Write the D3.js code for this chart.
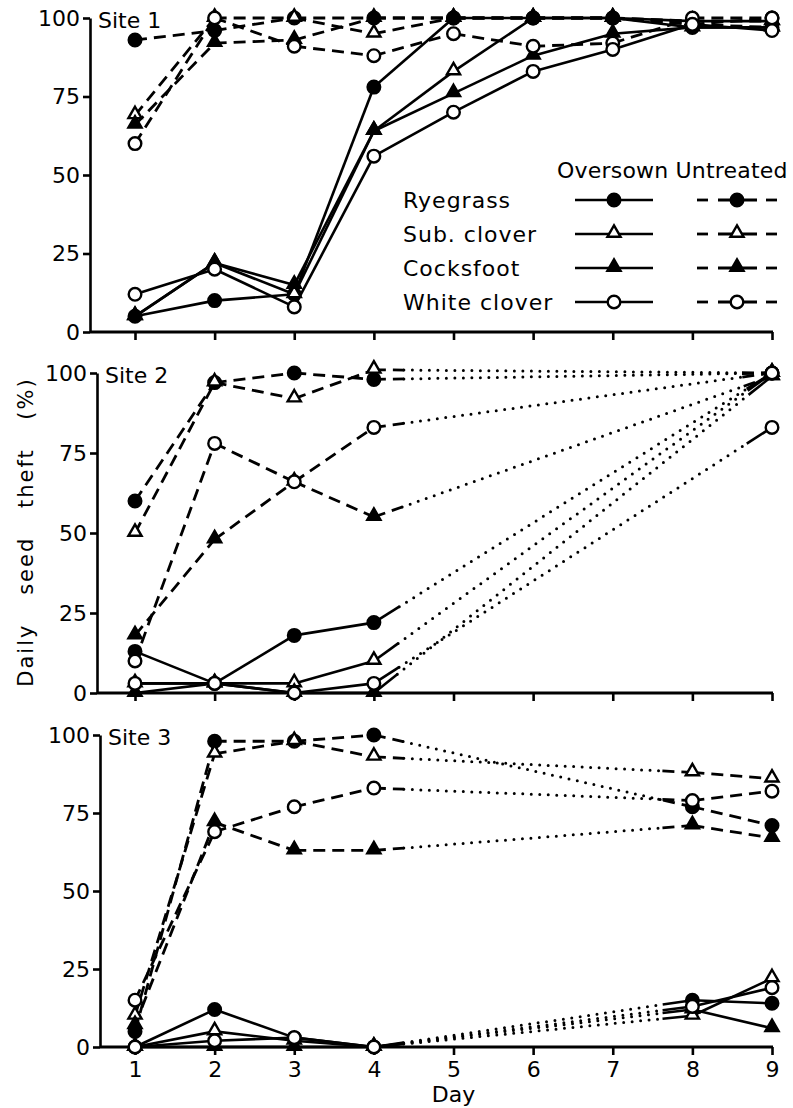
<!DOCTYPE html>
<html>
<head>
<meta charset="utf-8">
<script src="https://cdn.jsdelivr.net/npm/d3@7"></script>
<style>
  body { margin: 0; background: #fff; }
  svg { display: block; }
  text { font-family: "DejaVu Sans", sans-serif; fill: #000; }
</style>
</head>
<body>
<div id="chart"></div>
<script>
// days sampled at each site
var site1Days = [1, 2, 3, 4, 5, 6, 7, 8, 9];
var site2Days = [1, 2, 3, 4, 9];
var site3Days = [1, 2, 3, 4, 8, 9];

var species = ["Ryegrass", "Sub. clover", "Cocksfoot", "White clover"];
var treatments = ["Oversown", "Untreated"];
var yTicks = [0, 25, 50, 75, 100];
var xTicks = [1, 2, 3, 4, 5, 6, 7, 8, 9];

// rows follow the species order above
var site1Oversown = [
  [5, 10, 12, 78, 100, 100, 100, 97, 97],
  [5, 22, 12, 64, 83, 100, 100, 99, 99],
  [5, 22, 15, 64, 76, 88, 95, 97, 97],
  [12, 20, 8, 56, 70, 83, 90, 98, 96]
];
var site1Untreated = [
  [93, 96, 100, 100, 100, 100, 100, 98, 100],
  [69, 100, 100, 95, 100, 100, 100, 99, 99],
  [66, 92, 93, 100, 100, 100, 100, 98, 97],
  [60, 100, 91, 88, 95, 91, 92, 100, 100]
];
var site2Oversown = [
  [13, 3, 18, 22, 100],
  [3, 3, 3, 10, 100],
  [0, 3, 0, 0, 99],
  [3, 3, 0, 3, 83]
];
var site2Untreated = [
  [60, 97, 100, 98, 100],
  [50, 97, 92, 101, 100],
  [18, 48, 66, 55, 99],
  [10, 78, 66, 83, 100]
];
var site3Oversown = [
  [0, 12, 3, 0, 15, 14],
  [0, 5, 2, 0, 10, 22],
  [0, 0, 0, 0, 12, 6],
  [0, 2, 3, 0, 13, 19]
];
var site3Untreated = [
  [5, 98, 98, 100, 77, 71],
  [10, 94, 98, 93, 88, 86],
  [7, 72, 63, 63, 71, 67],
  [15, 69, 77, 83, 79, 82]
];

var W = 793, H = 1108;
var svg = d3.select("#chart").append("svg")
  .attr("width", W).attr("height", H);

var x = d3.scaleLinear().domain([1, 9]).range([135, 772]);

var panels = [
  { name: "Site 1", days: site1Days, over: site1Oversown, untr: site1Untreated, top: 18, bottom: 332, left: 90 },
  { name: "Site 2", days: site2Days, over: site2Oversown, untr: site2Untreated, top: 373, bottom: 693, left: 97 },
  { name: "Site 3", days: site3Days, over: site3Oversown, untr: site3Untreated, top: 735, bottom: 1047, left: 100 }
];

var stub = 30;

function marker(g, px, py, sp) {
  var filled = (sp === 0 || sp === 2);
  var m;
  if (sp === 0 || sp === 3) {
    m = g.append("circle").attr("cx", px).attr("cy", py).attr("r", 6.3);
  } else {
    m = g.append("path")
      .attr("d", d3.symbol().type(d3.symbolTriangle).size(75)())
      .attr("transform", "translate(" + px + "," + (py - 1) + ")");
  }
  m.attr("fill", filled ? "#000" : "#fff")
   .attr("stroke", "#000")
   .attr("stroke-width", 2.4);
}

function seg(g, a, b, style) {
  var p = g.append("line")
    .attr("x1", a[0]).attr("y1", a[1])
    .attr("x2", b[0]).attr("y2", b[1])
    .attr("stroke", "#000");
  if (style === "dash") {
    p.attr("stroke-width", 2.8).attr("stroke-dasharray", "12,7");
  } else if (style === "dot") {
    p.attr("stroke-width", 3).attr("stroke-dasharray", "0,8.5").attr("stroke-linecap", "round");
  } else {
    p.attr("stroke-width", 2.6);
  }
}

function drawSeries(g, y, days, values, style, sp) {
  var pts = days.map(function(d, i) { return [x(d), y(values[i])]; });
  for (var i = 0; i < pts.length - 1; i++) {
    var a = pts[i], b = pts[i + 1];
    if (days[i + 1] - days[i] > 1) {
      var dx = b[0] - a[0], dy = b[1] - a[1];
      var len = Math.sqrt(dx * dx + dy * dy);
      var ux = dx / len, uy = dy / len;
      var a2 = [a[0] + ux * stub, a[1] + uy * stub];
      var b2 = [b[0] - ux * stub, b[1] - uy * stub];
      seg(g, a, a2, style);
      seg(g, a2, b2, "dot");
      seg(g, b2, b, style);
    } else {
      seg(g, a, b, style);
    }
  }
  return pts;
}

panels.forEach(function(p, pi) {
  var y = d3.scaleLinear().domain([0, 100]).range([p.bottom, p.top]);
  var g = svg.append("g");

  // axes
  var ya = g.append("g")
    .attr("transform", "translate(" + p.left + ",0)")
    .call(d3.axisLeft(y).tickValues(yTicks).tickSize(7).tickSizeOuter(0).tickPadding(3));
  ya.selectAll("path, line").attr("stroke", "#000").attr("stroke-width", 2.6);
  ya.selectAll("text").style("font-size", "22px").attr("font-family", null);

  var xa = g.append("g")
    .attr("transform", "translate(0," + p.bottom + ")")
    .call(d3.axisBottom(x).tickValues(xTicks).tickSize(8).tickSizeOuter(0).tickPadding(6)
      .tickFormat(pi === 2 ? d3.format("d") : function() { return ""; }));
  xa.select(".domain").remove();
  xa.selectAll("line").attr("stroke", "#000").attr("stroke-width", 2.6);
  xa.selectAll("text").style("font-size", "22px").attr("font-family", null);
  g.append("line")
    .attr("x1", p.left).attr("x2", x(9) + 1)
    .attr("y1", p.bottom).attr("y2", p.bottom)
    .attr("stroke", "#000").attr("stroke-width", 2.8);

  g.append("text")
    .attr("x", p.left + 8).attr("y", p.top + 10)
    .style("font-size", "22px")
    .text(p.name);

  var lines = g.append("g");
  var marks = g.append("g");
  var all = [];
  species.forEach(function(s, sp) {
    all.push({ pts: drawSeries(lines, y, p.days, p.untr[sp], "dash", sp), sp: sp });
    all.push({ pts: drawSeries(lines, y, p.days, p.over[sp], "solid", sp), sp: sp });
  });
  all.forEach(function(o) {
    o.pts.forEach(function(pt) { marker(marks, pt[0], pt[1], o.sp); });
  });
});

// y title
svg.append("text")
  .attr("transform", "translate(33,532) rotate(-90)")
  .attr("text-anchor", "middle")
  .style("font-size", "21px")
  .style("letter-spacing", "2px")
  .style("word-spacing", "20px")
  .text("Daily seed theft (%)");

// x title
svg.append("text")
  .attr("x", x(5)).attr("y", 1102)
  .attr("text-anchor", "middle")
  .style("font-size", "22px")
  .text("Day");

// legend
var leg = svg.append("g");
leg.append("text")
  .attr("x", 557).attr("y", 178)
  .style("font-size", "22px")
  .style("letter-spacing", "0.2px")
  .text(treatments[0] + " " + treatments[1]);

species.forEach(function(s, sp) {
  var ly = 200 + sp * 34;
  leg.append("text")
    .attr("x", 403).attr("y", ly + 8)
    .style("font-size", "22px")
    .style("letter-spacing", "1px")
    .text(s);
  seg(leg, [575, ly], [653, ly], "solid");
  leg.append("line").attr("x1", 697).attr("x2", 708).attr("y1", ly).attr("y2", ly)
    .attr("stroke", "#000").attr("stroke-width", 2.8);
  leg.append("line").attr("x1", 718).attr("x2", 757).attr("y1", ly).attr("y2", ly)
    .attr("stroke", "#000").attr("stroke-width", 2.8);
  leg.append("line").attr("x1", 766).attr("x2", 777).attr("y1", ly).attr("y2", ly)
    .attr("stroke", "#000").attr("stroke-width", 2.8);
  marker(leg, 614, ly, sp);
  marker(leg, 737, ly, sp);
});
</script>
</body>
</html>
